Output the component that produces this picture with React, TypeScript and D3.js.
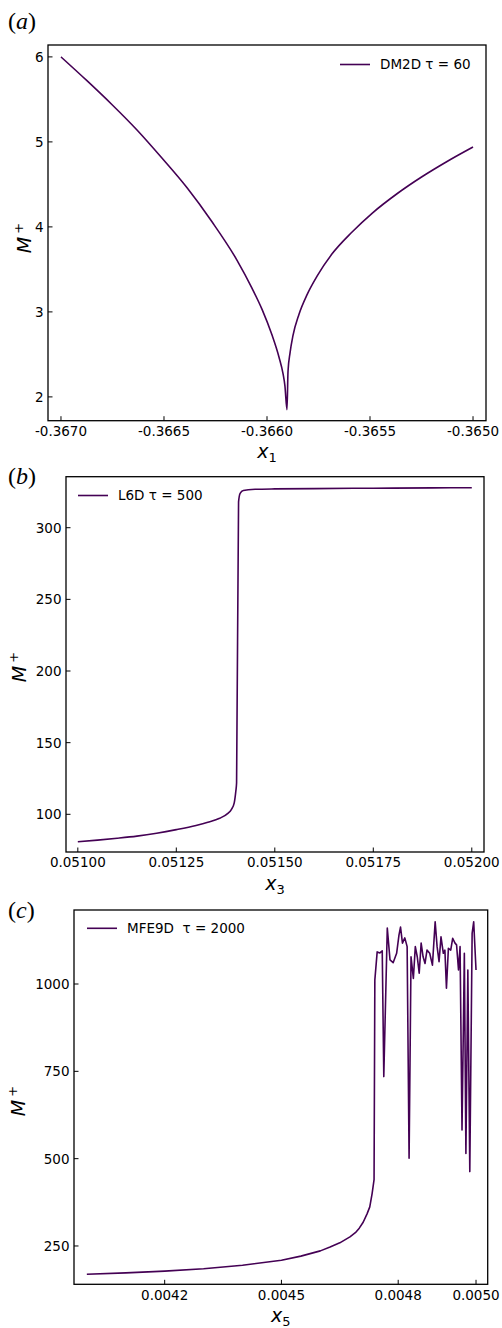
import React from 'react';
import * as d3 from 'd3';

// ---------- Panel (a) DM2D ----------
const aX = [-0.367, -0.366874, -0.366753, -0.366631, -0.36651, -0.366388, -0.366267, -0.366146, -0.366073, -0.366024, -0.365976, -0.365942, -0.365922, -0.365913, -0.365903,
  -0.365898, -0.365888, -0.365874, -0.365845, -0.365806, -0.365757, -0.365685, -0.365587, -0.36549, -0.365369, -0.365248, -0.365126, -0.365];
const aM = [6.0, 5.72, 5.44, 5.14, 4.81, 4.46, 4.06, 3.61, 3.28, 3.03, 2.73, 2.47, 2.27, 2.13, 1.85,
  2.3, 2.52, 2.72, 2.97, 3.2, 3.42, 3.68, 3.94, 4.16, 4.39, 4.59, 4.77, 4.94];
const aXTicks = [-0.367, -0.3665, -0.366, -0.3655, -0.365];
const aXTickLabels = ['-0.3670', '-0.3665', '-0.3660', '-0.3655', '-0.3650'];
const aYTicks = [2, 3, 4, 5, 6];
const aYTickLabels = ['2', '3', '4', '5', '6'];

// ---------- Panel (b) L6D ----------
const bX = [0.051, 0.05105, 0.0511, 0.05115, 0.0512, 0.05125, 0.0513, 0.05133, 0.05136, 0.05138, 0.05139, 0.051397, 0.051401, 0.051403, 0.051408, 0.051412, 0.05142, 0.05145, 0.0515, 0.0516, 0.0517, 0.0518, 0.0519, 0.052];
const bM = [80.9, 82.0, 83.3, 84.8, 86.8, 89.3, 92.2, 94.4, 97.2, 100.5, 103.5, 108, 116, 122, 318, 324, 326, 326.8, 327.1, 327.3, 327.5, 327.6, 327.8, 327.9];
const bXTicks = [0.051, 0.05125, 0.0515, 0.05175, 0.052];
const bXTickLabels = ['0.05100', '0.05125', '0.05150', '0.05175', '0.05200'];
const bYTicks = [100, 150, 200, 250, 300];
const bYTickLabels = ['100', '150', '200', '250', '300'];

// ---------- Panel (c) MFE9D ----------
const cX = [0.004, 0.0041, 0.0042, 0.0043, 0.0044, 0.0045, 0.00455, 0.0046, 0.004625, 0.00465, 0.004676, 0.00469, 0.0047, 0.00471, 0.00472, 0.004727, 0.004733, 0.004738, 0.00474,
  0.004746, 0.004753, 0.004759, 0.004763, 0.004772, 0.004779, 0.004787, 0.004796, 0.004802, 0.004806, 0.004811, 0.004817, 0.004823,
  0.004828, 0.004833, 0.004839, 0.004844, 0.004849, 0.004854, 0.004859, 0.004864, 0.004869, 0.004874, 0.004881, 0.004888, 0.004895,
  0.0049, 0.004905, 0.00491, 0.004916, 0.00492, 0.004924, 0.004929, 0.004935, 0.00494, 0.004946, 0.00495, 0.004955, 0.004959,
  0.004964, 0.00497, 0.004974, 0.004979, 0.004984, 0.00499, 0.004994, 0.005];
const cM = [169, 173, 178, 185, 195, 209, 221, 236, 247, 259, 276, 288, 301, 318, 342, 362, 400, 440, 1011,
  1092, 1089, 1095, 735, 1160, 1069, 1061, 1088, 1140, 1163, 1117, 1132, 1107,
  501, 1078, 1016, 1107, 1078, 1031, 1117, 1078, 1059, 1097, 1088, 1054, 1178,
  1107, 1064, 1135, 1088, 1097, 988, 1102, 1097, 1131, 1117, 1112, 1040, 1107,
  582, 1088, 515, 1040, 463, 1145, 1178, 1040];
const cXTicks = [0.0042, 0.0045, 0.0048, 0.005];
const cXTickLabels = ['0.0042', '0.0045', '0.0048', '0.0050'];
const cYTicks = [250, 500, 750, 1000];
const cYTickLabels = ['250', '500', '750', '1000'];

const LINE = '#440154';
const FONT = 'DejaVu Sans';

type PanelProps = {
  xs: number[]; ys: number[];
  xDom: [number, number]; yDom: [number, number];
  left: number; right: number; top: number; bottom: number;
  xTicks: number[]; xTickLabels: string[]; yTicks: number[]; yTickLabels: string[];
  tickBase: number; xLabelBase: number; sub: string; yLabelX: number; yLabelCy: number;
  legX: number; legY: number; legText: string; legTau: string;
  tag: string; tagY: number; curve: any;
};

function Panel(p: PanelProps) {
  const x = d3.scaleLinear().domain(p.xDom).range([p.left, p.right]);
  const y = d3.scaleLinear().domain(p.yDom).range([p.bottom, p.top]);
  const pts: [number, number][] = p.xs.map((v, i) => [v, p.ys[i]]);
  const line = d3.line<[number, number]>().x(d => x(d[0])).y(d => y(d[1])).curve(p.curve);
  const cx = (p.left + p.right) / 2;
  return (
    <g>
      <text x={8} y={p.tagY} fontFamily="Liberation Serif" fontSize={24} fill="#000">(<tspan fontStyle="italic">{p.tag}</tspan>)</text>
      <defs>
        <clipPath id={'clip' + p.tag}><rect x={p.left} y={p.top} width={p.right - p.left} height={p.bottom - p.top} /></clipPath>
      </defs>
      <path d={line(pts) || ''} fill="none" stroke={LINE} strokeWidth={1.6} strokeLinejoin="round" clipPath={`url(#clip${p.tag})`} />
      <rect x={p.left} y={p.top} width={p.right - p.left} height={p.bottom - p.top} fill="none" stroke="#000" strokeWidth={1.3} />
      {p.xTicks.map((t, i) => (
        <g key={'x' + i}>
          <line x1={x(t)} x2={x(t)} y1={p.bottom} y2={p.bottom - 4.5} stroke="#000" strokeWidth={1} />
          <text x={x(t)} y={p.tickBase} textAnchor="middle" fontFamily={FONT} fontSize={13.5} fill="#000">{p.xTickLabels[i]}</text>
        </g>
      ))}
      {p.yTicks.map((t, i) => (
        <g key={'y' + i}>
          <line x1={p.left} x2={p.left + 4.5} y1={y(t)} y2={y(t)} stroke="#000" strokeWidth={1} />
          <text x={p.left - 4.5} y={y(t)} dy="0.36em" textAnchor="end" fontFamily={FONT} fontSize={13.5} fill="#000">{p.yTickLabels[i]}</text>
        </g>
      ))}
      <text x={cx} y={p.xLabelBase} textAnchor="middle" fontFamily={FONT} fill="#000">
        <tspan fontStyle="italic" fontSize={19}>x</tspan><tspan fontSize={13} dy={4}>{p.sub}</tspan>
      </text>
      <text transform={`translate(${p.yLabelX},${p.yLabelCy}) rotate(-90)`} textAnchor="middle" fontFamily={FONT} fill="#000">
        <tspan fontStyle="italic" fontSize={19}>M</tspan><tspan fontSize={13} dx={3} dy={-8}>+</tspan>
      </text>
      <line x1={p.legX} x2={p.legX + 30} y1={p.legY} y2={p.legY} stroke={LINE} strokeWidth={1.6} />
      <text x={p.legX + 40} y={p.legY} dy="0.36em" fontFamily={FONT} fontSize={13.5} fill="#000" style={{ whiteSpace: 'pre' }}>
        {p.legText}<tspan>τ</tspan> = {p.legTau}
      </text>
    </g>
  );
}

export default function App() {
  return (
    <svg width={502} height={1328} style={{ position: 'absolute', left: 0, top: 0, background: '#fff' }}>
      <rect width={502} height={1328} fill="#fff" />
      <Panel xs={aX} ys={aM} xDom={[-0.367063, -0.364937]} yDom={[1.72, 6.14]}
        left={48} right={486} top={45} bottom={420.7}
        xTicks={aXTicks} xTickLabels={aXTickLabels} yTicks={aYTicks} yTickLabels={aYTickLabels}
        tickBase={436} xLabelBase={458} sub="1" yLabelX={31} yLabelCy={238}
        legX={340} legY={64.5} legText={'DM2D '} legTau="60" tag="a" tagY={29} curve={d3.curveMonotoneX} />
      <Panel xs={bX} ys={bM} xDom={[0.05097, 0.052031]} yDom={[73.7, 335.6]}
        left={66} right={484} top={476.7} bottom={852}
        xTicks={bXTicks} xTickLabels={bXTickLabels} yTicks={bYTicks} yTickLabels={bYTickLabels}
        tickBase={867} xLabelBase={890} sub="3" yLabelX={26} yLabelCy={667}
        legX={78} legY={495.5} legText={'L6D '} legTau="500" tag="b" tagY={484} curve={d3.curveMonotoneX} />
      <Panel xs={cX} ys={cM} xDom={[0.003967, 0.00503]} yDom={[140.3, 1211.9]}
        left={74} right={487.7} top={910} bottom={1284.3}
        xTicks={cXTicks} xTickLabels={cXTickLabels} yTicks={cYTicks} yTickLabels={cYTickLabels}
        tickBase={1300} xLabelBase={1322} sub="5" yLabelX={25} yLabelCy={1101}
        legX={87} legY={928.3} legText={'MFE9D  '} legTau="2000" tag="c" tagY={918} curve={d3.curveLinear} />
    </svg>
  );
}
